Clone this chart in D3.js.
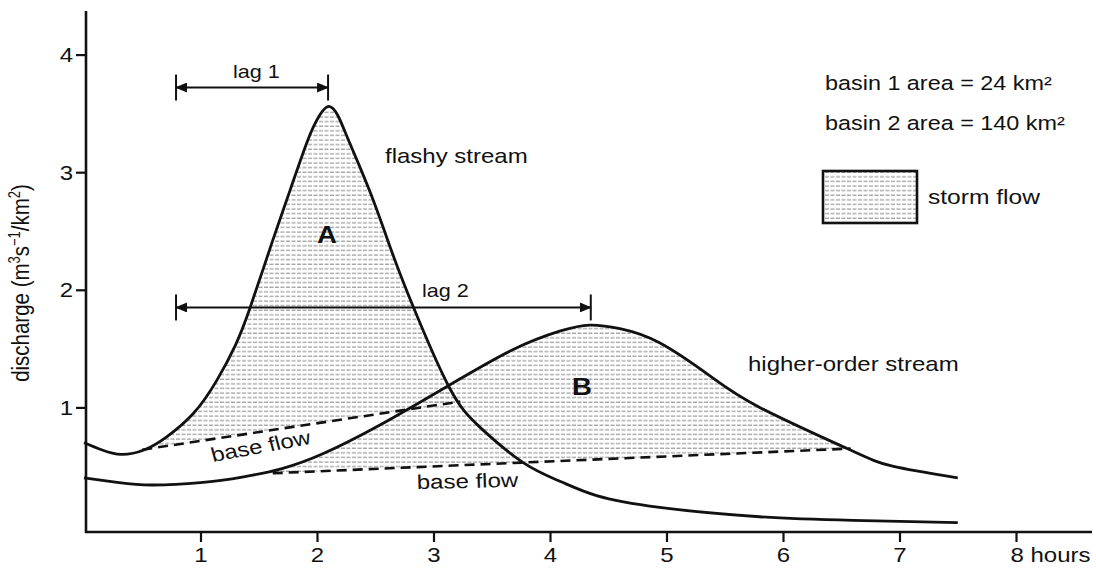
<!DOCTYPE html>
<html>
<head>
<meta charset="utf-8">
<script src="https://cdn.jsdelivr.net/npm/d3@7/dist/d3.min.js"></script>
<style>
body{margin:0;background:#fff;}
text{font-family:"Liberation Sans",Arial,Helvetica,sans-serif;fill:#111;}
</style>
</head>
<body>
<svg id="chart" width="1096" height="571"></svg>
<script>
// values (hours, m3/s/km2)
var xTicks = [1, 2, 3, 4, 5, 6, 7, 8];
var yTicks = [1, 2, 3, 4];

var flashyStream = [[0,0.70],[0.15,0.64],[0.32,0.60],[0.52,0.64],[0.71,0.75],[0.94,0.95],[1.14,1.23],[1.30,1.53],
    [1.43,1.86],[1.62,2.42],[1.77,2.85],[1.92,3.27],[2.02,3.48],[2.10,3.56],[2.18,3.48],[2.28,3.25],[2.46,2.82],
    [2.64,2.33],[2.82,1.87],[3.13,1.18],[3.40,0.83],[3.77,0.53],[4.09,0.37],[4.40,0.25],[4.94,0.15],[5.80,0.07],
    [6.60,0.04],[7.50,0.02]];
var higherStream = [[0,0.40],[0.30,0.36],[0.58,0.34],[1.00,0.36],[1.37,0.41],[1.70,0.48],[2.06,0.61],[2.54,0.85],
    [3.12,1.18],[3.68,1.49],[4.09,1.65],[4.34,1.70],[4.60,1.67],[4.94,1.55],[5.37,1.27],[5.80,1.00],[6.55,0.65],
    [6.94,0.50],[7.50,0.40]];
var baseFlow1 = [[0.50,0.64],[3.23,1.05]];
var baseFlow2 = [[1.62,0.44],[6.58,0.65]];
// [start hour, end hour, height]
var lag1 = [0.79, 2.095, 3.72];
var lag2 = [0.79, 4.35, 1.85];

var sx = 1.2; // the scan is stretched sideways, text too

var svg = d3.select("#chart");
var x = d3.scaleLinear().domain([0, 8]).range([84, 1016]);
var y = d3.scaleLinear().domain([0, 4]).range([525, 54.6]);

var defs = svg.append("defs");

var pat = defs.append("pattern")
    .attr("id", "stipple")
    .attr("patternUnits", "userSpaceOnUse")
    .attr("width", 11).attr("height", 4.6);
pat.append("line")
    .attr("x1", 0).attr("x2", 11).attr("y1", 2).attr("y2", 2)
    .attr("stroke", "#a8a8a8").attr("stroke-width", 1.4)
    .attr("stroke-dasharray", "4 1.5");

defs.append("marker")
    .attr("id", "arrow")
    .attr("markerUnits", "userSpaceOnUse")
    .attr("markerWidth", 12).attr("markerHeight", 10)
    .attr("refX", 11).attr("refY", 5)
    .attr("orient", "auto-start-reverse")
    .append("path")
    .attr("d", "M0,0 L12,5 L0,10 Z")
    .attr("fill", "#111");

var curve = d3.curveNatural;
var line = d3.line()
    .x(function(d){ return x(d[0]); })
    .y(function(d){ return y(d[1]); })
    .curve(curve);
var under = d3.area()
    .x(function(d){ return x(d[0]); })
    .y0(y(0))
    .y1(function(d){ return y(d[1]); })
    .curve(curve);
var poly = d3.line()
    .x(function(d){ return x(d[0]); })
    .y(function(d){ return y(d[1]); });

// storm flow = under the hydrograph and over the base flow line
function stormFlow(id, stream, base){
    defs.append("clipPath").attr("id", id)
        .append("path").attr("d", under(stream));
    var top = 4.4;
    var pts = [base[0], base[1], [base[1][0], top], [base[0][0], top]];
    svg.append("path")
        .attr("d", poly(pts) + "Z")
        .attr("fill", "url(#stipple)")
        .attr("clip-path", "url(#" + id + ")");
}
stormFlow("clipA", flashyStream, baseFlow1);
stormFlow("clipB", higherStream, baseFlow2);

// axes
var xAxis = svg.append("g")
    .attr("transform", "translate(0,532)")
    .call(d3.axisBottom(x).tickValues(xTicks).tickSize(10).tickSizeOuter(0)
        .tickFormat(function(d){ return d === 8 ? "8 hours" : d; }));
var yAxis = svg.append("g")
    .attr("transform", "translate(86,0)")
    .call(d3.axisLeft(y).tickValues(yTicks).tickSize(10).tickSizeOuter(0)
        .tickFormat(d3.format("d")));

[xAxis, yAxis].forEach(function(g){
    g.select(".domain").remove();
    g.selectAll(".tick line").attr("stroke", "#111").attr("stroke-width", 2.2);
    g.selectAll(".tick text").attr("font-size", 20).attr("fill", "#111")
        .style("font-family", '"Liberation Sans",Arial,sans-serif');
});
xAxis.selectAll(".tick text")
    .attr("y", 30).attr("dy", 0)
    .attr("transform", "scale(" + sx + ",1)")
    .attr("text-anchor", function(d){ return d === 8 ? "start" : "middle"; })
    .attr("x", function(d){ return d === 8 ? -6 / sx : 0; });
yAxis.selectAll(".tick text")
    .attr("x", -13 / sx).attr("dy", "0.35em")
    .attr("transform", "scale(" + sx + ",1)");

svg.append("line")
    .attr("x1", 86).attr("x2", 86).attr("y1", 11).attr("y2", 533)
    .attr("stroke", "#111").attr("stroke-width", 2.6);
svg.append("line")
    .attr("x1", 85).attr("x2", 1092).attr("y1", 532).attr("y2", 532)
    .attr("stroke", "#111").attr("stroke-width", 2.6);

// base flow dashes
[baseFlow1, baseFlow2].forEach(function(b){
    svg.append("path")
        .attr("d", poly(b))
        .attr("fill", "none").attr("stroke", "#111")
        .attr("stroke-width", 2.6).attr("stroke-dasharray", "10 6");
});

// hydrographs
[flashyStream, higherStream].forEach(function(s){
    svg.append("path")
        .attr("d", line(s))
        .attr("fill", "none").attr("stroke", "#111")
        .attr("stroke-width", 2.8).attr("stroke-linejoin", "round");
});

// lag arrows
function lagArrow(lag){
    var yy = y(lag[2]);
    svg.append("line")
        .attr("x1", x(lag[0])).attr("x2", x(lag[1]))
        .attr("y1", yy).attr("y2", yy)
        .attr("stroke", "#111").attr("stroke-width", 2)
        .attr("marker-start", "url(#arrow)")
        .attr("marker-end", "url(#arrow)");
    [lag[0], lag[1]].forEach(function(h){
        svg.append("line")
            .attr("x1", x(h)).attr("x2", x(h))
            .attr("y1", yy - 13).attr("y2", yy + 13)
            .attr("stroke", "#111").attr("stroke-width", 2);
    });
}
lagArrow(lag1);
lagArrow(lag2);

function label(str, px, py, size, anchor, weight, rot){
    return svg.append("text")
        .attr("transform", "translate(" + px + "," + py + ") scale(" + sx + ",1)" + (rot ? " rotate(" + rot + ")" : ""))
        .attr("font-size", size)
        .attr("text-anchor", anchor || "start")
        .attr("font-weight", weight || "normal")
        .text(str);
}

label("lag 1", 233, 78, 18);
label("lag 2", 422, 297, 18);
label("flashy stream", 385, 163, 20);
label("higher-order stream", 748, 371, 20);
label("A", 327, 243, 23, "middle", "bold");
label("B", 582, 395, 23, "middle", "bold");
label("base flow", 213, 462, 20, "start", "normal", -12.5);
label("base flow", 417, 489, 20, "start", "normal", -1.5);
label("basin 1 area = 24 km²", 825, 90, 19.5);
label("basin 2 area = 140 km²", 825, 130, 19.5);

// legend
svg.append("rect")
    .attr("x", 823).attr("y", 171).attr("width", 94).attr("height", 52)
    .attr("fill", "url(#stipple)").attr("stroke", "#111").attr("stroke-width", 2.6);
label("storm flow", 928, 204, 20.5);

// y axis title with superscripts
var yt = svg.append("text")
    .attr("transform", "translate(29,283) scale(" + sx + ",1) rotate(-90)")
    .attr("font-size", 20.5)
    .attr("text-anchor", "middle");
yt.append("tspan").text("discharge (m");
yt.append("tspan").attr("baseline-shift", "super").attr("font-size", 13).text("3");
yt.append("tspan").text("s");
yt.append("tspan").attr("baseline-shift", "super").attr("font-size", 13).text("−1");
yt.append("tspan").text("/km");
yt.append("tspan").attr("baseline-shift", "super").attr("font-size", 13).text("2");
yt.append("tspan").text(")");
</script>
</body>
</html>
